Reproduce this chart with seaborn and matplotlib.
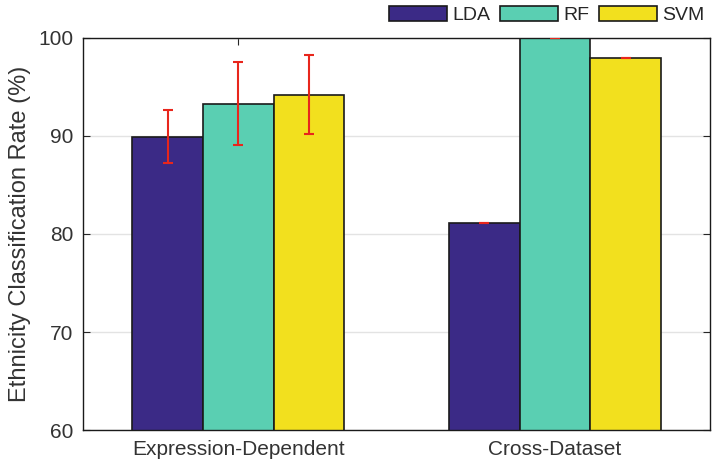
import pandas as pd
import matplotlib.pyplot as plt
import seaborn as sns
from matplotlib.patches import Patch

# values
groups = ['Expression-Dependent', 'Cross-Dataset']
methods = ['LDA', 'RF', 'SVM']
rate_expr = [89.9, 93.3, 94.2]
err_expr = [2.7, 4.2, 4.05]
rate_cross = [81.1, 100.0, 97.9]
err_cross = [0.0, 0.0, 0.0]

colors = ['#3b2a86', '#5acfb2', '#f2e01e']

df = pd.DataFrame({
    'group': [groups[0]] * 3 + [groups[1]] * 3,
    'method': methods * 2,
    'rate': rate_expr + rate_cross,
    'err': err_expr + err_cross,
})

sns.set_style('white')
plt.rcParams['font.family'] = ['Liberation Sans', 'DejaVu Sans']

fig = plt.figure(figsize=(7.16, 4.61), dpi=100)
ax = fig.add_axes([0.116, 0.067, 0.876, 0.851])

ax.yaxis.grid(True, color='#e3e3e3', linewidth=1)
ax.set_axisbelow(True)

sns.barplot(data=df, x='group', y='rate', hue='method', order=groups,
            hue_order=methods, palette=colors, width=0.67, errorbar=None,
            edgecolor='#1a1a1a', linewidth=1.2, saturation=1, ax=ax,
            legend=False)

# error bars at the bar centres
for container, m in zip(ax.containers, methods):
    sub = df[df['method'] == m].set_index('group').loc[groups]
    xs = [p.get_x() + p.get_width() / 2 for p in container.patches]
    ax.errorbar(xs, sub['rate'], yerr=sub['err'], fmt='none',
                ecolor='#e8261c', elinewidth=1.5, capsize=3.5, capthick=1.5,
                zorder=5)

ax.set_ylim(60, 100)
ax.set_xlim(-0.49, 1.49)
ax.set_yticks([60, 70, 80, 90, 100])
ax.set_xlabel('')
ax.set_ylabel('Ethnicity Classification Rate (%)', fontsize=17, color='#333333',
              labelpad=5)
ax.tick_params(axis='both', direction='in', length=5, labelsize=15, pad=7,
               labelcolor='#333333', top=True, right=True, bottom=True, left=True)
for s in ax.spines.values():
    s.set_visible(True)
    s.set_color('#1a1a1a')
    s.set_linewidth(1.0)

handles = [Patch(facecolor=c, edgecolor='#1a1a1a', linewidth=1.2) for c in colors]
fig.legend(handles, methods, loc='upper right', bbox_to_anchor=(1.008, 1.025),
           ncol=3, frameon=False, fontsize=14, handlelength=3.0,
           handleheight=0.8, handletextpad=0.25, columnspacing=0.5)

plt.savefig('out.png', dpi=100)
